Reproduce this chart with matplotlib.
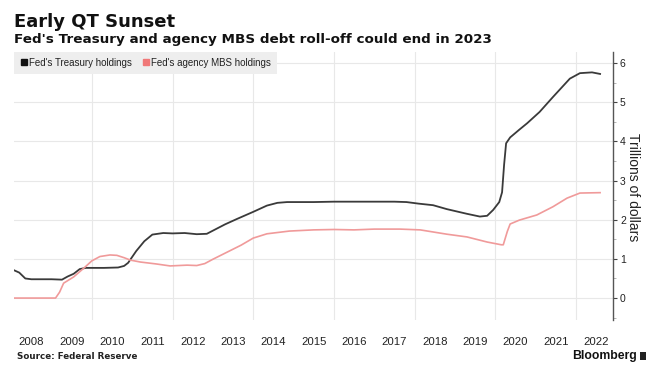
import matplotlib
matplotlib.use('Agg')
import matplotlib.pyplot as plt
from matplotlib.lines import Line2D
from matplotlib.patches import FancyBboxPatch
from matplotlib.ticker import MultipleLocator

# ---- data (decimal years, trillions of dollars) ----
treasury_t = [2008.07, 2008.2, 2008.35, 2008.5, 2009.0, 2009.26, 2009.4, 2009.55, 2009.7, 2009.85,
              2010.3, 2010.65, 2010.8, 2010.9, 2011.1, 2011.3, 2011.5, 2011.77, 2012.0, 2012.3,
              2012.6, 2012.85, 2013.0, 2013.3, 2013.6, 2014.0, 2014.34, 2014.6, 2014.84, 2015.5,
              2016.0, 2016.5, 2017.0, 2017.5, 2017.8, 2018.1, 2018.46, 2018.8, 2019.3, 2019.62,
              2019.8, 2019.95, 2020.1, 2020.17, 2020.22, 2020.27, 2020.37, 2020.6, 2020.79, 2021.1,
              2021.43, 2021.85, 2022.1, 2022.4, 2022.6]
treasury_v = [0.71, 0.65, 0.50, 0.48, 0.48, 0.47, 0.55, 0.62, 0.74, 0.77,
              0.77, 0.78, 0.82, 0.90, 1.20, 1.45, 1.62, 1.66, 1.65, 1.66,
              1.63, 1.64, 1.72, 1.88, 2.02, 2.20, 2.36, 2.43, 2.45, 2.45,
              2.46, 2.46, 2.46, 2.46, 2.45, 2.41, 2.37, 2.27, 2.15, 2.08,
              2.10, 2.25, 2.45, 2.70, 3.40, 3.95, 4.10, 4.30, 4.46, 4.75,
              5.13, 5.60, 5.74, 5.76, 5.72]

mbs_t = [2008.07, 2009.1, 2009.2, 2009.3, 2009.55, 2009.83, 2010.0, 2010.2, 2010.45, 2010.62,
         2010.8, 2010.95, 2011.2, 2011.6, 2011.94, 2012.36, 2012.6, 2012.8, 2013.0, 2013.35,
         2013.7, 2014.0, 2014.34, 2014.9, 2015.5, 2016.0, 2016.5, 2017.0, 2017.64, 2018.14,
         2018.8, 2019.3, 2019.8, 2020.15, 2020.2, 2020.3, 2020.37, 2020.6, 2021.03, 2021.43,
         2021.78, 2022.1, 2022.6]
mbs_v = [0.0, 0.0, 0.15, 0.38, 0.54, 0.79, 0.95, 1.06, 1.10, 1.09,
         1.03, 0.97, 0.92, 0.87, 0.82, 0.84, 0.83, 0.88, 0.99, 1.17,
         1.35, 1.53, 1.64, 1.71, 1.74, 1.75, 1.74, 1.76, 1.76, 1.74,
         1.63, 1.56, 1.43, 1.36, 1.36, 1.70, 1.89, 1.99, 2.12, 2.33,
         2.55, 2.68, 2.69]

years = [2008, 2009, 2010, 2011, 2012, 2013, 2014, 2015, 2016, 2017, 2018, 2019, 2020, 2021, 2022]
year_labels = [str(y) for y in years]
grid_years = [2010, 2012, 2014, 2016, 2018, 2020, 2022]
y_ticks = [0, 1, 2, 3, 4, 5, 6]

W, H = 658, 376
fig = plt.figure(figsize=(W / 100, H / 100), dpi=100)
fig.patch.set_facecolor('white')

ax = fig.add_axes([14 / W, 1 - 320 / H, (613 - 14) / W, (320 - 52) / H])
ax.plot(treasury_t, treasury_v, color='#3a3a3a', lw=1.3, solid_joinstyle='round')
ax.plot(mbs_t, mbs_v, color='#f09a9a', lw=1.2, solid_joinstyle='round')

ax.set_xlim(2008.07, 2022.92)
ax.set_ylim(-0.56, 6.28)

for s in ['top', 'left', 'bottom']:
    ax.spines[s].set_visible(False)
ax.spines['right'].set_color('#555555')
ax.spines['right'].set_linewidth(1.0)

sans = ['Liberation Sans', 'DejaVu Sans']

ax.set_xticks([y + 0.5 for y in years])
ax.set_xticklabels(year_labels, family=sans, fontsize=8.2, color='#222222')
ax.set_xticks(grid_years, minor=True)
ax.tick_params(axis='x', which='both', length=0, pad=12)
ax.grid(which='minor', axis='x', color='#e8e8e8', lw=0.8)

ax.yaxis.tick_right()
ax.set_yticks(y_ticks)
ax.set_yticklabels([str(v) for v in y_ticks], family=sans, fontsize=7.5, color='#222222')
ax.yaxis.set_minor_locator(MultipleLocator(0.5))
ax.tick_params(axis='y', which='major', length=3, width=0.8, color='#444444', pad=2)
ax.tick_params(axis='y', which='minor', length=2, width=0.6, color='#aaaaaa')
ax.grid(which='major', axis='y', color='#e8e8e8', lw=0.8)
ax.set_axisbelow(True)

fig.text(633 / W, 1 - 187 / H, 'Trillions of dollars', rotation=270, ha='center', va='center',
         family=sans, fontsize=10, color='#222222')

handles = [Line2D([], [], marker='s', ls='', color='#111111', markersize=4.5),
           Line2D([], [], marker='s', ls='', color='#f07878', markersize=4.5)]
leg = ax.legend(handles, ["Fed's Treasury holdings", "Fed's agency MBS holdings"],
                loc='upper left', bbox_to_anchor=(0, 1), ncol=2, frameon=True,
                facecolor='#eeeeee', edgecolor='none', fancybox=False, framealpha=1,
                handletextpad=0.05, columnspacing=1.0, borderpad=0.6, handlelength=0.9,
                borderaxespad=0, prop={'family': sans, 'size': 7})
for t in leg.get_texts():
    t.set_color('#222222')

fig.text(14 / W, 1 - 27 / H, 'Early QT Sunset', ha='left', va='baseline',
         family='DejaVu Sans', fontweight='bold', fontsize=13, color='#111111')
fig.text(14 / W, 1 - 43.5 / H, "Fed's Treasury and agency MBS debt roll-off could end in 2023",
         ha='left', va='baseline', family='DejaVu Sans', fontweight='bold', fontsize=9.7,
         color='#111111')
fig.text(17 / W, 1 - 359 / H, 'Source: Federal Reserve', ha='left', va='baseline',
         family='DejaVu Sans', fontweight='bold', fontsize=6.3, color='#222222')
fig.text(637 / W, 1 - 359 / H, 'Bloomberg', ha='right', va='baseline',
         family=sans, fontweight='bold', fontsize=8.8, color='#111111')
fig.patches.append(FancyBboxPatch((640 / W, 1 - 360 / H), 6 / W, 8 / H,
                                  boxstyle='round,pad=0', transform=fig.transFigure,
                                  facecolor='#222222', edgecolor='none'))

fig.savefig('out.png', dpi=100, facecolor='white')
